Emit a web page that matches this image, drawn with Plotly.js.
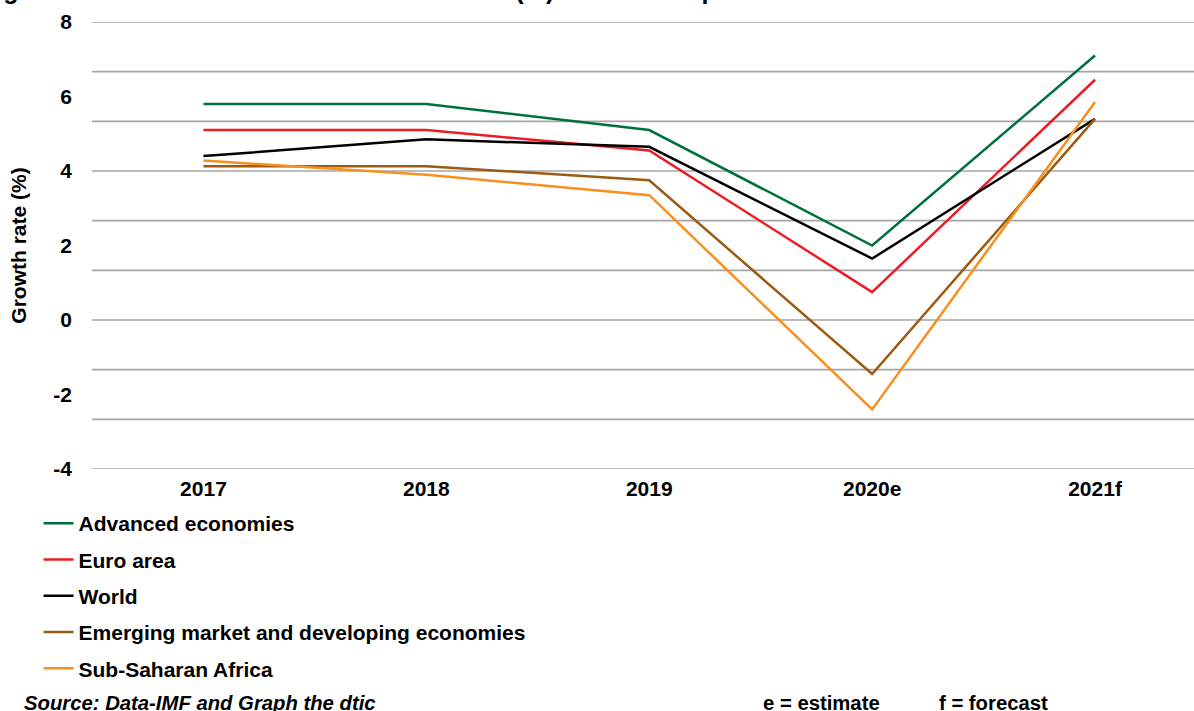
<!DOCTYPE html>
<html>
<head>
<meta charset="utf-8">
<script src="https://cdn.plot.ly/plotly-3.0.1.min.js"></script>
<style>
  html, body { margin: 0; padding: 0; background: #ffffff; }
  #chart { width: 1194px; height: 711px; }
</style>
</head>
<body>
<div id="chart"></div>
<script>
// ---- data ----
const categories = ['2017', '2018', '2019', '2020e', '2021f'];
const advancedEconomies = [5.8, 5.8, 5.1, 2.0, 7.1];
const euroArea = [5.1, 5.1, 4.55, 0.75, 6.45];
const world = [4.4, 4.85, 4.65, 1.65, 5.4];
const emergingEconomies = [4.13, 4.13, 3.75, -1.45, 5.4];
const subSaharanAfrica = [4.28, 3.9, 3.35, -2.4, 5.85];
const seriesNames = ['Advanced economies', 'Euro area', 'World',
  'Emerging market and developing economies', 'Sub-Saharan Africa'];
const yTickVals = [-4, -2, 0, 2, 4, 6, 8];
const yTickText = ['-4', '-2', '0', '2', '4', '6', '8'];

const seriesValues = [advancedEconomies, euroArea, world, emergingEconomies, subSaharanAfrica];
const colors = ['#00703c', '#ed1c24', '#000000', '#9c5b12', '#f7901e'];

const FONT = 'Arial, "Liberation Sans", Helvetica, sans-serif';
const FS = 21;

const traces = seriesValues.map((vals, i) => ({
  type: 'scatter',
  mode: 'lines',
  name: seriesNames[i],
  legendgroup: 'g' + i,
  x: categories,
  y: vals,
  line: { color: colors[i], width: 2.5 },
  hoverinfo: 'skip'
}));

// plot geometry (pixels)
const W = 1194, H = 711;
const mL = 91.5, mR = 0, mT = 22, mB = 242;
const plotW = W - mL - mR, plotH = H - mT - mB;
const px2x = p => (p - mL) / plotW;
const px2y = p => (H - mB - p) / plotH;
const catW = 223;
const yMin = -4, yMax = 8, gridStep = 4 / 3;

// horizontal gridlines (Excel-style: 9 equal bands between -4 and 8)
const gridShapes = [];
for (let k = 0; k <= Math.round((yMax - yMin) / gridStep); k++) {
  const v = yMin + k * gridStep;
  gridShapes.push({
    type: 'line', layer: 'below',
    xref: 'paper', x0: 0, x1: 1,
    yref: 'y', y0: v, y1: v,
    line: { color: '#a6a6a6', width: 1.6 }
  });
}

const boldFont = (size, extra) => Object.assign({ family: FONT, size: size, color: '#000000', weight: 700 }, extra || {});

const layout = {
  width: W,
  height: H,
  margin: { l: mL, r: mR, t: mT, b: mB, pad: 0 },
  paper_bgcolor: '#ffffff',
  plot_bgcolor: '#ffffff',
  font: boldFont(FS),
  showlegend: true,
  legend: {
    orientation: 'v',
    x: px2x(38), xanchor: 'left',
    y: px2y(503), yanchor: 'top',
    font: boldFont(FS),
    tracegroupgap: 6,
    itemwidth: 30,
    bgcolor: 'rgba(0,0,0,0)'
  },
  xaxis: {
    type: 'category',
    categoryorder: 'array',
    categoryarray: categories,
    range: [-0.5, plotW / catW - 0.5],
    showgrid: false,
    zeroline: false,
    showline: false,
    ticks: '',
    ticklabelstandoff: 5,
    tickfont: boldFont(FS),
    fixedrange: true
  },
  yaxis: {
    range: [yMin, yMax],
    tickmode: 'array',
    tickvals: yTickVals,
    ticktext: yTickText,
    showgrid: false,
    zeroline: false,
    showline: false,
    ticks: '',
    ticklabelstandoff: 19,
    tickfont: boldFont(FS),
    title: {
      text: 'Growth rate (%)',
      font: boldFont(FS),
      standoff: 20
    },
    fixedrange: true
  },
  shapes: gridShapes,
  annotations: [
    {
      text: 'Figure 1: Growth rates of the world real GDP (%) at constant prices',
      xref: 'paper', yref: 'paper',
      x: px2x(-22), xanchor: 'left',
      y: px2y(6), yanchor: 'bottom',
      showarrow: false,
      font: boldFont(25)
    },
    {
      text: 'Source: Data-IMF and Graph the dtic',
      xref: 'paper', yref: 'paper',
      x: px2x(21), xanchor: 'left',
      y: px2y(703), yanchor: 'middle',
      showarrow: false,
      font: boldFont(20.3, { style: 'italic' })
    },
    {
      text: 'e = estimate',
      xref: 'paper', yref: 'paper',
      x: px2x(761), xanchor: 'left',
      y: px2y(703), yanchor: 'middle',
      showarrow: false,
      font: boldFont(20.3)
    },
    {
      text: 'f = forecast',
      xref: 'paper', yref: 'paper',
      x: px2x(937), xanchor: 'left',
      y: px2y(703), yanchor: 'middle',
      showarrow: false,
      font: boldFont(20.3)
    }
  ]
};

Plotly.newPlot('chart', traces, layout, { displayModeBar: false, staticPlot: true, responsive: false });
</script>
</body>
</html>
